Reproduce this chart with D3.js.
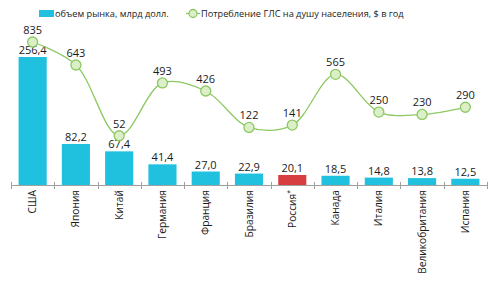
<!DOCTYPE html>
<html>
<head>
<meta charset="utf-8">
<script src="https://cdn.jsdelivr.net/npm/d3@7"></script>
<style>
  body { margin: 0; background: #fff; }
  svg { display: block; font-family: "Open Sans", sans-serif; }
</style>
</head>
<body>
<div id="chart"></div>
<script>
// Data
const countries = ["США", "Япония", "Китай", "Германия", "Франция", "Бразилия", "Россия", "Канада", "Италия", "Великобритания", "Испания"];
const marketSize = [256.4, 82.2, 67.4, 41.4, 27.0, 22.9, 20.1, 18.5, 14.8, 13.8, 12.5];
const perCapita = [835, 643, 52, 493, 426, 122, 141, 565, 250, 230, 290];
const highlight = "Россия";
const legendLabels = ["объем рынка, млрд долл.", "Потребление ГЛС на душу населения, $ в год"];

const width = 494, height = 281;
const axisY = 185;
const barColor = "#1fc1de", redColor = "#d63e3f";
const lineColor = "#8cc963", dotFill = "#dcefc8";

const fmt = v => d3.format(".1f")(v).replace(".", ",");

const svg = d3.select("#chart").append("svg")
    .attr("width", width)
    .attr("height", height);

const x = d3.scaleBand()
    .domain(countries)
    .range([11, 487])
    .paddingInner(0.35)
    .paddingOuter(0.175);

const yBar = d3.scaleLinear()
    .domain([0, 256.4])
    .range([axisY, 57]);

const yLine = d3.scaleLinear()
    .domain([0, 835])
    .range([142, 42]);

// bars
svg.append("g").selectAll("rect")
    .data(countries)
    .join("rect")
    .attr("x", d => x(d))
    .attr("y", (d, i) => yBar(marketSize[i]))
    .attr("width", x.bandwidth())
    .attr("height", (d, i) => axisY - yBar(marketSize[i]))
    .attr("fill", d => d === highlight ? redColor : barColor);

// bar labels
svg.append("g").selectAll("text")
    .data(countries)
    .join("text")
    .attr("x", d => x(d) + x.bandwidth() / 2)
    .attr("y", (d, i) => yBar(marketSize[i]) - 3)
    .attr("text-anchor", "middle")
    .attr("font-size", 11)
    .attr("fill", "#1a1a1a")
    .text((d, i) => fmt(marketSize[i]));

// axis line and ticks at band boundaries
const axis = svg.append("g").attr("stroke", "#a0a0a0").attr("stroke-width", 1);
axis.append("line")
    .attr("x1", 11).attr("x2", 487)
    .attr("y1", axisY + 0.5).attr("y2", axisY + 0.5);
axis.selectAll("line.tick")
    .data(d3.range(countries.length + 1))
    .join("line")
    .attr("class", "tick")
    .attr("x1", i => Math.round(11 + i * x.step()) + 0.5)
    .attr("x2", i => Math.round(11 + i * x.step()) + 0.5)
    .attr("y1", axisY - 3)
    .attr("y2", axisY + 4);

// category labels (rotated)
const cat = svg.append("g").selectAll("text")
    .data(countries)
    .join("text")
    .attr("transform", d => `translate(${x(d) + x.bandwidth() / 2 + 3.5},${axisY + 5}) rotate(-90)`)
    .attr("text-anchor", "end")
    .attr("font-size", 10.2)
    .attr("fill", "#1a1a1a");
cat.append("tspan").text(d => d);
cat.filter(d => d === highlight).append("tspan")
    .attr("dy", -4)
    .attr("font-size", 7)
    .text("*");

// line
const line = d3.line()
    .x((d, i) => x(countries[i]) + x.bandwidth() / 2)
    .y(d => yLine(d))
    .curve(d3.curveCatmullRom.alpha(0.5));

svg.append("path")
    .datum(perCapita)
    .attr("d", line)
    .attr("fill", "none")
    .attr("stroke", lineColor)
    .attr("stroke-width", 1.3);

svg.append("g").selectAll("circle")
    .data(perCapita)
    .join("circle")
    .attr("cx", (d, i) => x(countries[i]) + x.bandwidth() / 2)
    .attr("cy", d => yLine(d))
    .attr("r", 5)
    .attr("fill", dotFill)
    .attr("stroke", lineColor)
    .attr("stroke-width", 1.3);

svg.append("g").selectAll("text")
    .data(perCapita)
    .join("text")
    .attr("x", (d, i) => x(countries[i]) + x.bandwidth() / 2)
    .attr("y", d => yLine(d) - 8)
    .attr("text-anchor", "middle")
    .attr("font-size", 11)
    .attr("fill", "#1a1a1a")
    .text(d => d);

// legend
const lg = svg.append("g").attr("font-size", 9.2).attr("fill", "#1a1a1a");
lg.append("rect")
    .attr("x", 39).attr("y", 10)
    .attr("width", 15).attr("height", 7)
    .attr("fill", barColor);
lg.append("text")
    .attr("x", 55).attr("y", 17)
    .text(legendLabels[0]);
lg.append("line")
    .attr("x1", 186).attr("x2", 200)
    .attr("y1", 13.5).attr("y2", 13.5)
    .attr("stroke", lineColor).attr("stroke-width", 1.3);
lg.append("circle")
    .attr("cx", 193).attr("cy", 13.5).attr("r", 4)
    .attr("fill", dotFill).attr("stroke", lineColor).attr("stroke-width", 1.3);
lg.append("text")
    .attr("x", 201).attr("y", 17)
    .text(legendLabels[1]);
</script>
</body>
</html>
